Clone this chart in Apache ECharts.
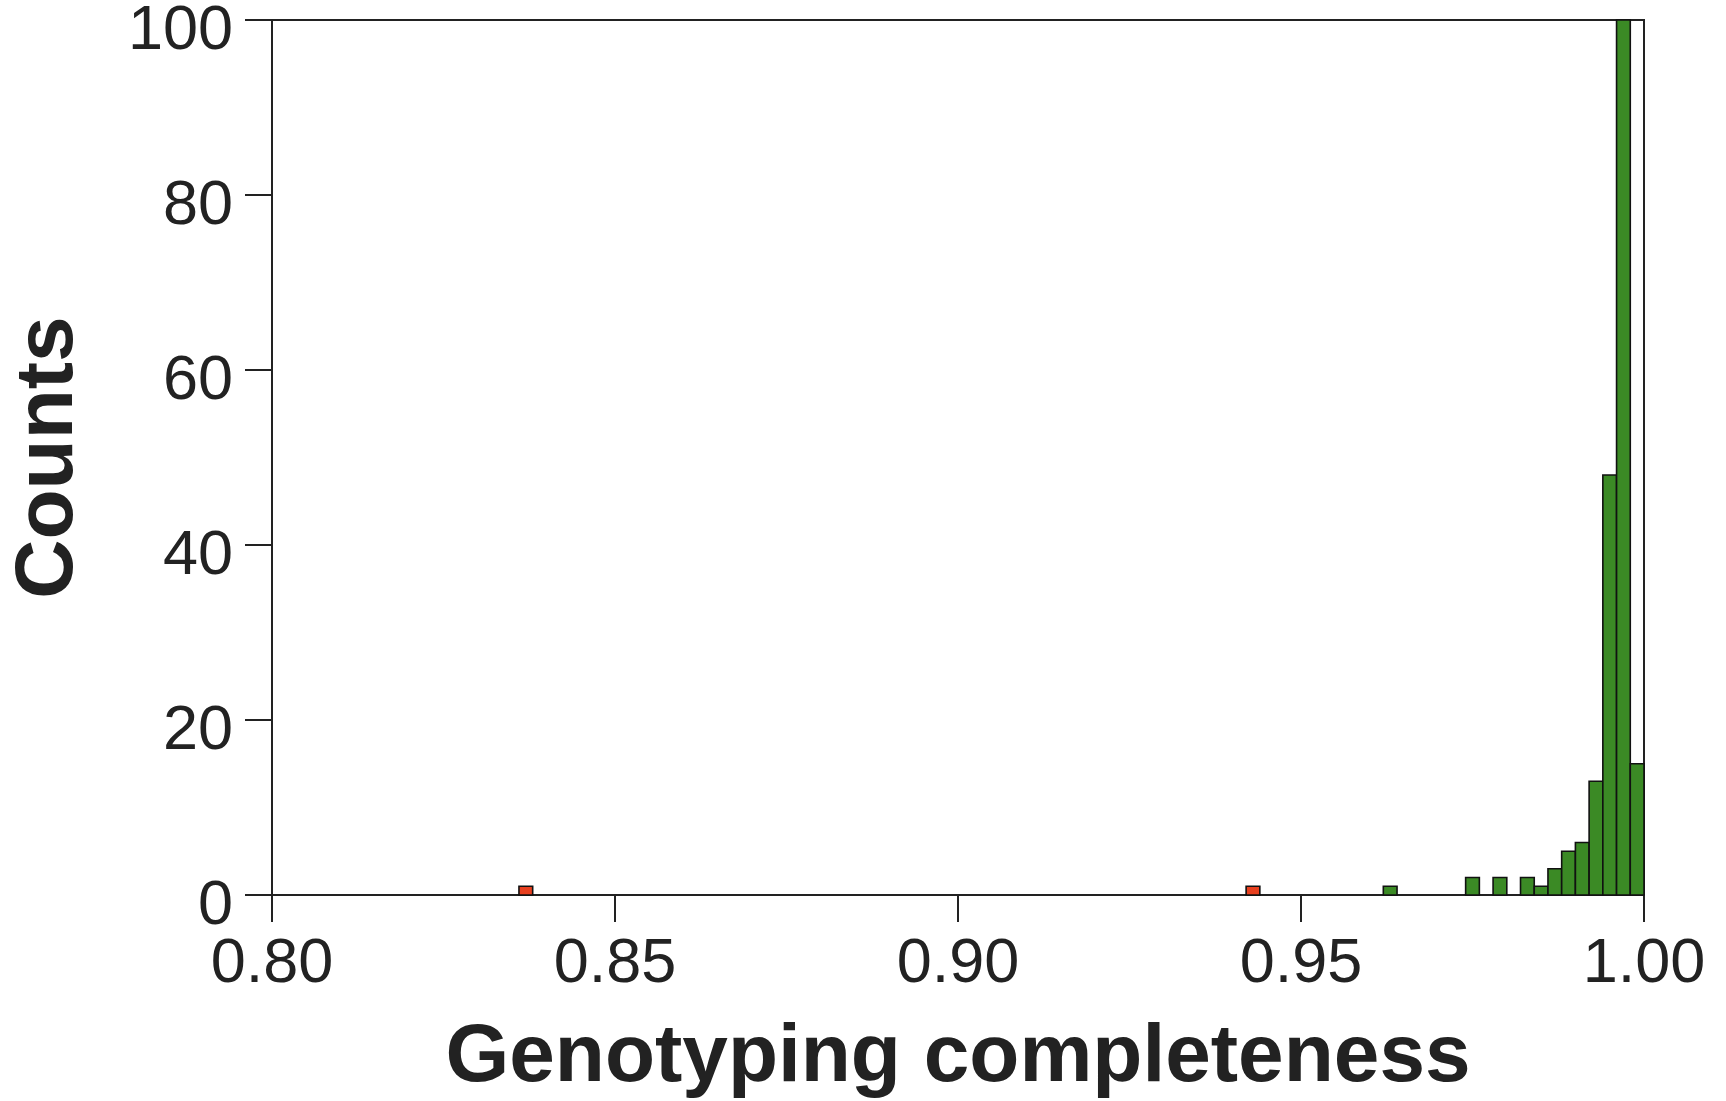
<!DOCTYPE html>
<html>
<head>
<meta charset="utf-8">
<script src="https://cdn.jsdelivr.net/npm/echarts@6/dist/echarts.min.js"></script>
<style>
html,body{margin:0;padding:0;background:#fff;}
#chart{width:1726px;height:1101px;}
</style>
</head>
<body>
<div id="chart"></div>
<script>
const binWidth = 0.002;
const xTicks = [0.80, 0.85, 0.90, 0.95, 1.00];
const yTicks = [0, 20, 40, 60, 80, 100];
const failBinStarts = [0.836, 0.942];
const failCounts = [1, 1];
const passBinStarts = [0.962, 0.974, 0.978, 0.982, 0.984, 0.986, 0.988, 0.990, 0.992, 0.994, 0.996, 0.998];
const passCounts = [1, 2, 2, 2, 1, 3, 5, 6, 13, 48, 100, 15];
const xTitle = 'Genotyping completeness';
const yTitle = 'Counts';

const FONT = '"Liberation Sans", Arial, Helvetica, sans-serif';
const INK = '#222222';

function renderBar(color) {
  return function (params, api) {
    const x0 = api.value(0);
    const c = api.value(1);
    const p0 = api.coord([x0, c]);
    const p1 = api.coord([x0 + binWidth, 0]);
    return {
      type: 'rect',
      shape: { x: p0[0], y: p0[1], width: p1[0] - p0[0], height: p1[1] - p0[1] },
      style: { fill: color, stroke: '#111111', lineWidth: 1.6 }
    };
  };
}

const chart = echarts.init(document.getElementById('chart'), null, { renderer: 'canvas' });
chart.setOption({
  animation: false,
  backgroundColor: '#ffffff',
  grid: {
    left: 272, right: 82, top: 20, bottom: 206,
    outerBoundsMode: 'none', containLabel: false,
    show: true, borderColor: INK, borderWidth: 2, backgroundColor: 'transparent'
  },
  xAxis: {
    type: 'value',
    min: xTicks[0], max: xTicks[xTicks.length - 1], interval: 0.05,
    name: xTitle, nameLocation: 'middle', nameGap: 122,
    nameTextStyle: { fontFamily: FONT, fontWeight: 'bold', fontSize: 82, color: INK },
    axisLine: { show: true, onZero: false, lineStyle: { color: INK, width: 2 } },
    axisTick: { show: true, length: 27, lineStyle: { color: INK, width: 2 } },
    axisLabel: { margin: 38, fontFamily: FONT, fontSize: 63, color: INK,
      formatter: v => v.toFixed(2) },
    splitLine: { show: false }
  },
  yAxis: {
    type: 'value',
    min: yTicks[0], max: yTicks[yTicks.length - 1], interval: 20,
    name: yTitle, nameLocation: 'middle', nameGap: 182,
    nameTextStyle: { fontFamily: FONT, fontWeight: 'bold', fontSize: 82, color: INK },
    axisLine: { show: true, lineStyle: { color: INK, width: 2 } },
    axisTick: { show: true, length: 27, lineStyle: { color: INK, width: 2 } },
    axisLabel: { margin: 39, fontFamily: FONT, fontSize: 63, color: INK,
      formatter: v => '{a|' + v + '}',
      rich: { a: { fontFamily: FONT, fontSize: 63, color: INK, padding: [23, 0, 0, 0] } } },
    splitLine: { show: false }
  },
  series: [
    {
      name: 'fail', type: 'custom', renderItem: renderBar('#e8401f'),
      encode: { x: 0, y: 1 },
      data: failBinStarts.map((x, i) => [x, failCounts[i]])
    },
    {
      name: 'pass', type: 'custom', renderItem: renderBar('#3b8a25'),
      encode: { x: 0, y: 1 },
      data: passBinStarts.map((x, i) => [x, passCounts[i]])
    }
  ]
});
</script>
</body>
</html>
